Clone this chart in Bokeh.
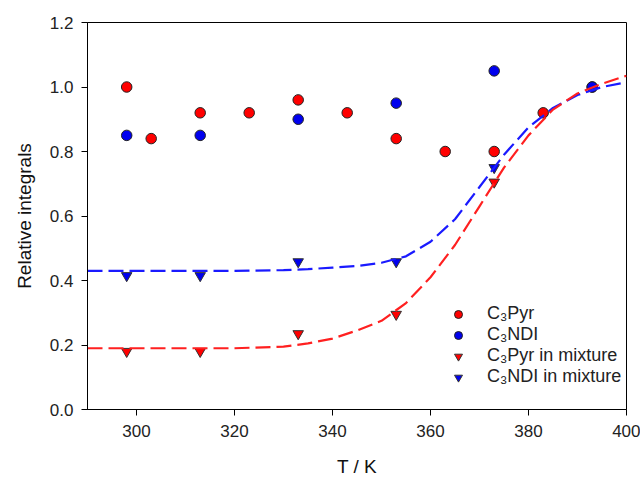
from bokeh.plotting import figure
from bokeh.models import Range1d, Legend, LegendItem, FixedTicker, CustomJSTickFormatter
from bokeh.embed import file_html
from bokeh.resources import INLINE

# Data
pyr_T = [298, 303, 313, 323, 333, 343, 353, 363, 373, 383, 393]
pyr_v = [1.00, 0.84, 0.92, 0.92, 0.96, 0.92, 0.84, 0.80, 0.80, 0.92, 1.00]
ndi_T = [298, 313, 333, 353, 373, 393]
ndi_v = [0.85, 0.85, 0.90, 0.95, 1.05, 1.00]
pyr_mix_T = [298, 313, 333, 353, 373]
pyr_mix_v = [0.18, 0.18, 0.235, 0.295, 0.705]
ndi_mix_T = [298, 313, 333, 353, 373]
ndi_mix_v = [0.415, 0.415, 0.458, 0.458, 0.75]

fit_T = [290, 300, 310, 320, 330, 335, 340, 345, 350, 355, 360, 365, 370, 375, 380, 385, 390, 395, 400]
fit_pyr = [0.19, 0.19, 0.19, 0.19, 0.195, 0.205, 0.22, 0.245, 0.275, 0.33, 0.41, 0.51, 0.63, 0.75, 0.85, 0.93, 0.98, 1.01, 1.035]
fit_ndi = [0.43, 0.43, 0.43, 0.43, 0.432, 0.435, 0.44, 0.445, 0.455, 0.475, 0.52, 0.59, 0.69, 0.79, 0.875, 0.935, 0.975, 1.0, 1.015]

x_ticks = [300, 320, 340, 360, 380, 400]
y_ticks = [0.0, 0.2, 0.4, 0.6, 0.8, 1.0, 1.2]

FONT = "Liberation Sans"

p = figure(width=640, height=479, output_backend="svg", toolbar_location=None,
           x_range=Range1d(290, 400), y_range=Range1d(0, 1.2),
           min_border_left=87, min_border_right=14, min_border_top=22, min_border_bottom=70)
p.xgrid.visible = False
p.ygrid.visible = False
p.outline_line_color = "black"
p.outline_line_width = 1
p.background_fill_color = "white"
p.border_fill_color = "white"

for ax in (p.xaxis[0], p.yaxis[0]):
    ax.axis_line_color = "black"
    ax.major_tick_line_color = "black"
    ax.major_tick_out = 6
    ax.major_tick_in = 0
    ax.minor_tick_line_color = None
    ax.major_label_text_font = FONT
    ax.major_label_text_font_size = "17px"
    ax.major_label_text_color = "#222222"
    ax.axis_label_text_font = FONT
    ax.axis_label_text_font_size = "19px"
    ax.axis_label_text_font_style = "normal"
    ax.axis_label_text_color = "#111111"

p.xaxis.ticker = FixedTicker(ticks=x_ticks)
p.yaxis.ticker = FixedTicker(ticks=y_ticks)
p.yaxis.formatter = CustomJSTickFormatter(code="return tick.toFixed(1);")
p.xaxis.axis_label = "T / K"
p.yaxis.axis_label = "Relative integrals"
p.xaxis.major_label_standoff = 9
p.xaxis.axis_label_standoff = 16
p.yaxis.major_label_standoff = 8
p.yaxis.axis_label_standoff = 12

r1 = p.scatter(pyr_T, pyr_v, marker="circle", size=10.5, fill_color="#ff0000", line_color="#222222", line_width=1)
r2 = p.scatter(ndi_T, ndi_v, marker="circle", size=10.5, fill_color="#0000ee", line_color="#222222", line_width=1)
r3 = p.scatter(pyr_mix_T, pyr_mix_v, marker="inverted_triangle", size=10.5, fill_color="#ff0000", line_color="#333333", line_width=1)
r4 = p.scatter(ndi_mix_T, ndi_mix_v, marker="inverted_triangle", size=10.5, fill_color="#0000ee", line_color="#333333", line_width=1)

dash = "15 6"
p.line(fit_T, fit_ndi, line_color="#1a1aff", line_width=2.2, line_dash=dash)
p.line(fit_T, fit_pyr, line_color="#ff2020", line_width=2.2, line_dash=dash)

legend = Legend(items=[
    LegendItem(label="C\u2083Pyr", renderers=[r1]),
    LegendItem(label="C\u2083NDI", renderers=[r2]),
    LegendItem(label="C\u2083Pyr in mixture", renderers=[r3]),
    LegendItem(label="C\u2083NDI in mixture", renderers=[r4]),
], location=(361, 22), padding=0, margin=0, spacing=0,
   label_height=20, glyph_height=20, glyph_width=20, label_standoff=19,
   label_text_font=FONT, label_text_font_size="18px", label_text_color="#222222",
   border_line_color=None, background_fill_alpha=0)
p.add_layout(legend)

open("out.html", "w").write(file_html(p, INLINE))
